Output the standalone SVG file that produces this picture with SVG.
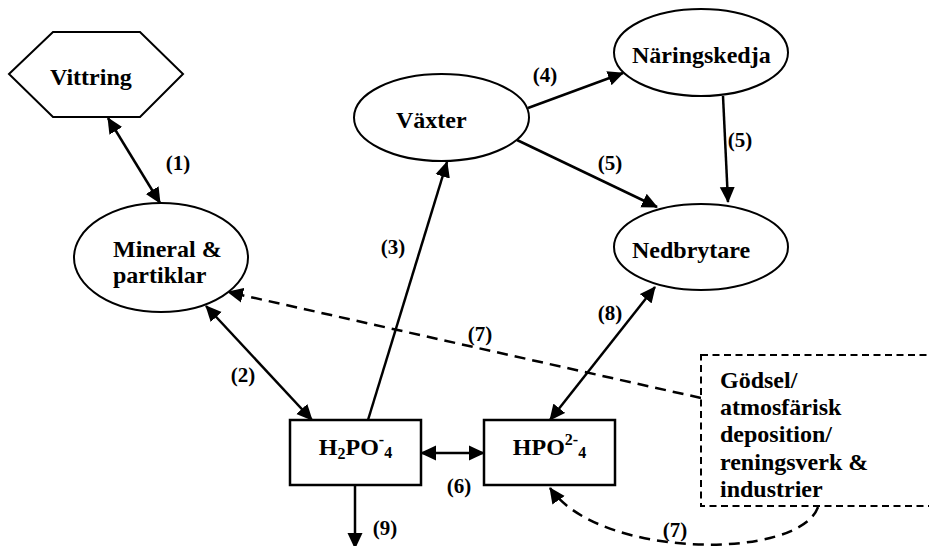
<svg xmlns="http://www.w3.org/2000/svg" width="929" height="546" viewBox="0 0 929 546">
  <style>
    .shape { fill: #fff; stroke: #000; stroke-width: 2; }
    .box { fill: #fff; stroke: #000; stroke-width: 2.5; }
    .src { fill: #fff; stroke: #000; stroke-width: 2; stroke-dasharray: 7 4.5; }
    .txt { font-size: 24px; fill: #000; }
    .lbl { font-size: 21px; fill: #000; text-anchor: middle; }
    .edge { fill: none; stroke: #000; stroke-width: 2.5; }
    .dash { stroke-dasharray: 11 7; }
  </style>
  <defs>
    <marker id="arrow" viewBox="0 0 16 16" refX="15" refY="8" markerWidth="16" markerHeight="16" markerUnits="userSpaceOnUse" orient="auto-start-reverse">
      <path d="M0,0.5 L16,8 L0,15.5 Z" fill="#000" stroke="none"/>
    </marker>
  </defs>

  <rect width="929" height="546" fill="#fff"/>

  <g font-family="'Liberation Serif', Tinos, 'Times New Roman', Times, serif" font-weight="bold">
  <!-- connectors -->
  <g id="connectors">
    <line class="edge" x1="108" y1="118" x2="160" y2="203" marker-start="url(#arrow)" marker-end="url(#arrow)"/>
    <line class="edge" x1="206" y1="306" x2="312" y2="420" marker-start="url(#arrow)" marker-end="url(#arrow)"/>
    <line class="edge" x1="368" y1="420" x2="447" y2="162" marker-end="url(#arrow)"/>
    <line class="edge" x1="528" y1="108" x2="623" y2="73" marker-end="url(#arrow)"/>
    <line class="edge" x1="517" y1="140" x2="657" y2="207" marker-end="url(#arrow)"/>
    <line class="edge" x1="723" y1="96" x2="728" y2="202" marker-end="url(#arrow)"/>
    <line class="edge" x1="421" y1="453" x2="484" y2="453" marker-start="url(#arrow)" marker-end="url(#arrow)"/>
    <line class="edge" x1="550" y1="420" x2="655" y2="287" marker-start="url(#arrow)" marker-end="url(#arrow)"/>
    <line class="edge" x1="355" y1="485" x2="355" y2="548" marker-end="url(#arrow)"/>
    <line class="edge dash" x1="701" y1="398" x2="228" y2="292" marker-end="url(#arrow)"/>
    <path class="edge dash" d="M818,507 C800,560 600,560 550,488" marker-end="url(#arrow)"/>

    <text class="lbl" x="178" y="170">(1)</text>
    <text class="lbl" x="243" y="382">(2)</text>
    <text class="lbl" x="393" y="254">(3)</text>
    <text class="lbl" x="545" y="82">(4)</text>
    <text class="lbl" x="610" y="170">(5)</text>
    <text class="lbl" x="740" y="147">(5)</text>
    <text class="lbl" x="459" y="493">(6)</text>
    <text class="lbl" x="480" y="341">(7)</text>
    <text class="lbl" x="675" y="537">(7)</text>
    <text class="lbl" x="610" y="320">(8)</text>
    <text class="lbl" x="385" y="535">(9)</text>
  </g>

  <g id="vittring">
    <polygon class="shape" points="9,74 53,32 140,32 183,74 140,117 53,117"/>
    <text class="txt" x="50" y="85">Vittring</text>
  </g>

  <g id="mineral">
    <ellipse class="shape" cx="161" cy="257.5" rx="87" ry="54.5"/>
    <text class="txt" x="113" y="257">Mineral &amp;</text>
    <text class="txt" x="113" y="283">partiklar</text>
  </g>

  <g id="vaxter">
    <ellipse class="shape" cx="441.5" cy="117.5" rx="87.5" ry="43.5"/>
    <text class="txt" x="396" y="128">Växter</text>
  </g>

  <g id="naringskedja">
    <ellipse class="shape" cx="701" cy="52.5" rx="87" ry="43.5"/>
    <text class="txt" x="632" y="63">Näringskedja</text>
  </g>

  <g id="nedbrytare">
    <ellipse class="shape" cx="701" cy="247" rx="87" ry="43"/>
    <text class="txt" x="632" y="258">Nedbrytare</text>
  </g>

  <g id="h2po4">
    <rect class="box" x="290" y="420" width="131" height="65"/>
    <text class="txt" x="355.5" y="455" text-anchor="middle">H<tspan font-size="16" dy="4">2</tspan><tspan dy="-4">PO</tspan><tspan font-size="16" dy="-10">-</tspan><tspan font-size="16" dy="13">4</tspan></text>
  </g>

  <g id="hpo4">
    <rect class="box" x="484" y="420" width="131" height="65"/>
    <text class="txt" x="549.5" y="455" text-anchor="middle">HPO<tspan font-size="16" dy="-10">2-</tspan><tspan font-size="16" dy="13">4</tspan></text>
  </g>

  <g id="godsel">
    <rect class="src" x="701" y="355" width="260" height="151"/>
    <text class="txt" x="720" y="388">Gödsel/</text>
    <text class="txt" x="720" y="415">atmosfärisk</text>
    <text class="txt" x="720" y="442">deposition/</text>
    <text class="txt" x="720" y="470">reningsverk &amp;</text>
    <text class="txt" x="720" y="497">industrier</text>
  </g>
  </g>
</svg>
